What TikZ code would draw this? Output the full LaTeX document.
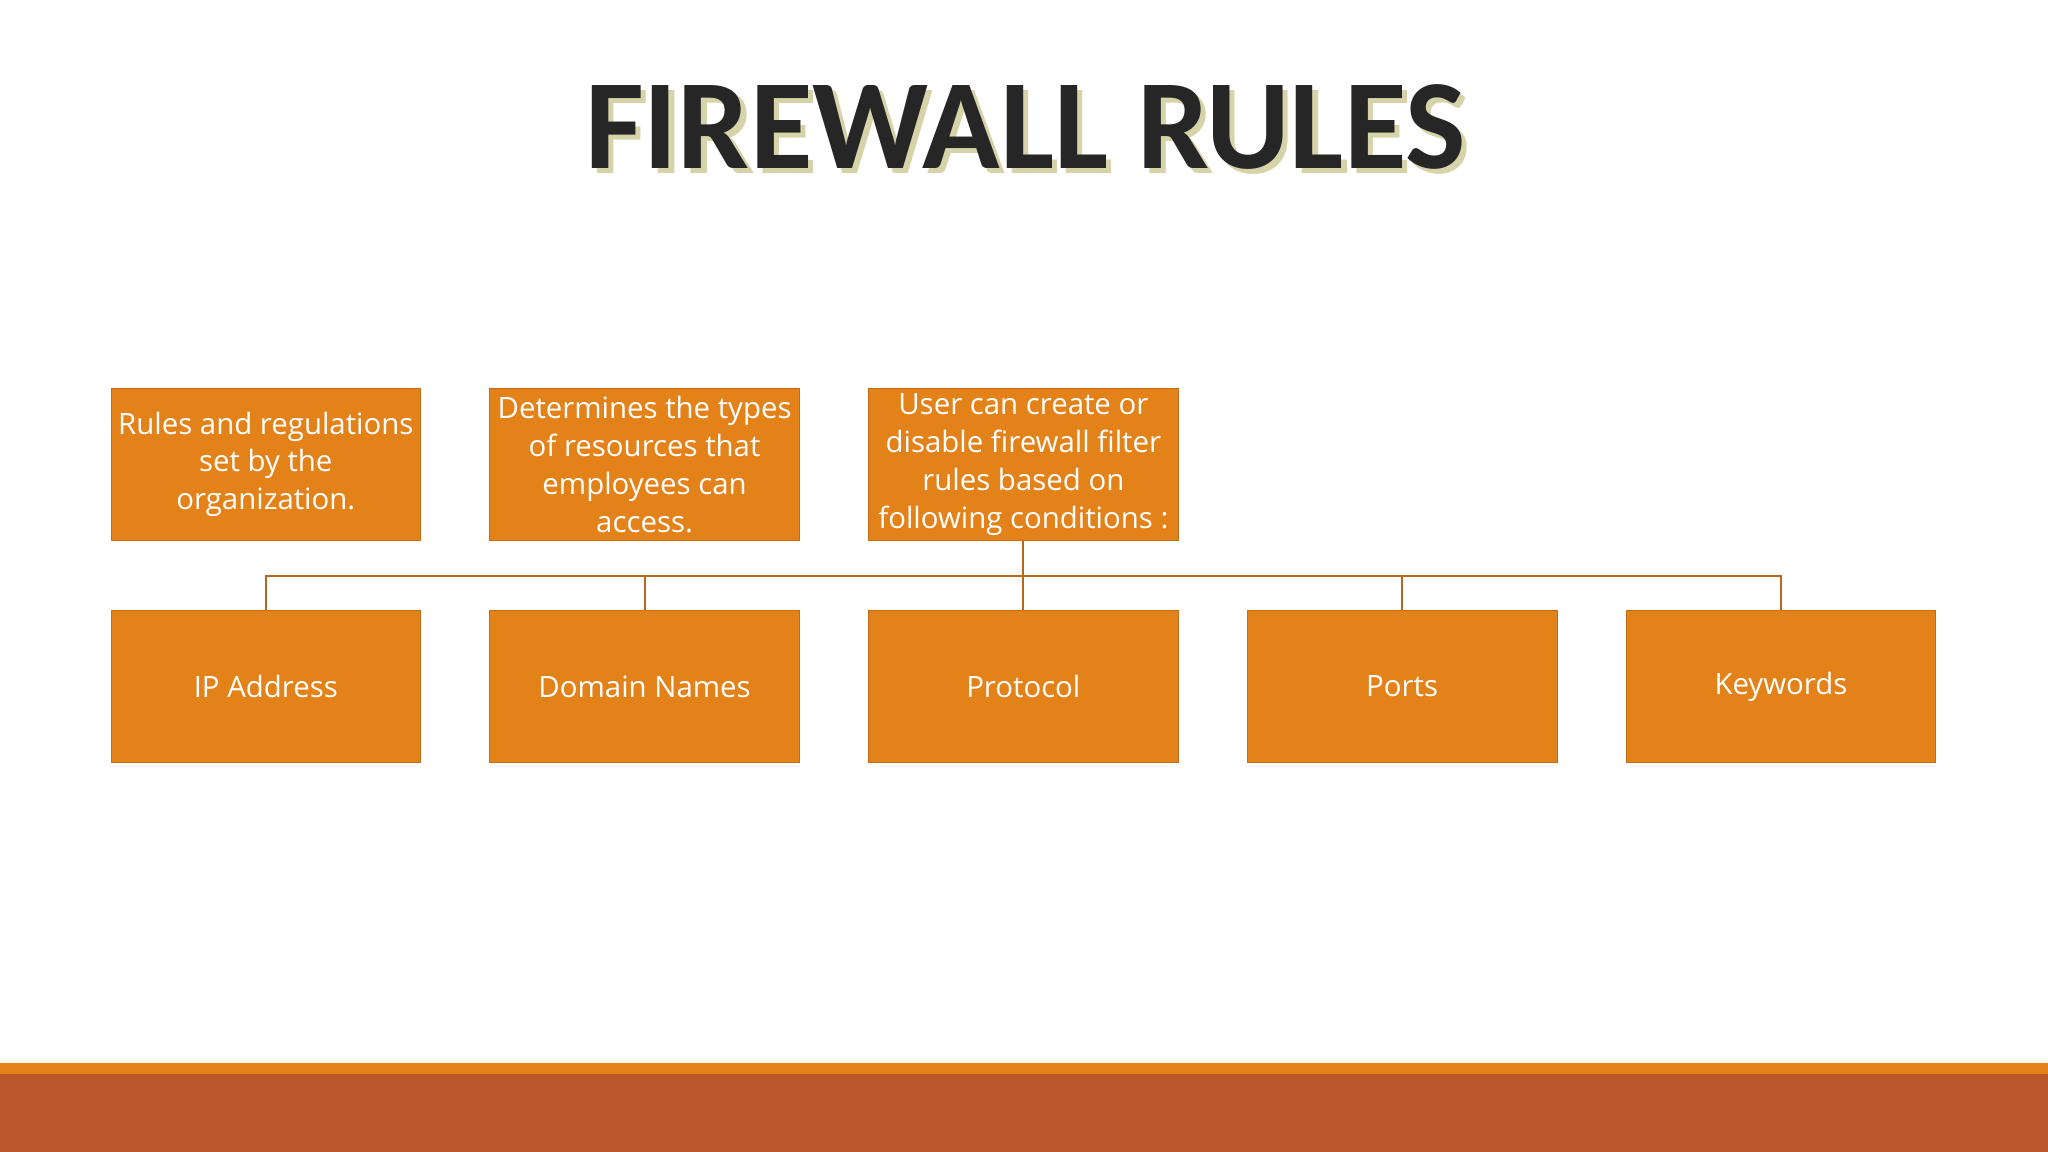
\documentclass[tikz,border=0pt]{standalone}
\usepackage{fontspec}
\setmainfont{Open Sans}
\newfontfamily\titlefont{Carlito}
\definecolor{boxc}{HTML}{E4821A}
\definecolor{linec}{HTML}{B8671C}
\definecolor{barc}{HTML}{BA5629}
\definecolor{shadc}{HTML}{D6D3A8}
\begin{document}
\begin{tikzpicture}[x=1pt,y=-1pt,
  bx/.style={fill=boxc,draw=boxc!85!black,line width=0.6pt,minimum width=237pt,minimum height=117pt,inner sep=2pt,text=white,font=\fontsize{22.5}{29}\selectfont,align=center},
  conn/.style={draw=linec,line width=1.6pt}]
\useasboundingbox (0,0) rectangle (1568,882);
\fill[white] (0,0) rectangle (1568,882);
\fill[boxc] (0,814) rectangle (1568,822);
\fill[barc] (0,822) rectangle (1568,882);
\node[text=shadc,font=\titlefont\fontsize{98}{98}\bfseries\selectfont] at (789,101) {FIREWALL RULES};
\node[text=black!85,font=\titlefont\fontsize{98}{98}\bfseries\selectfont] (title) at (785,97) {FIREWALL RULES};
\node[bx] (t1) at (203.5,355.5) {Rules and regulations\\set by the\\organization.};
\node[bx] (t2) at (493.5,355.5) {Determines the types\\of resources that\\employees can\\access.};
\node[bx] (t3) at (783.5,355.5) {User can create or\\disable firewall filter\\rules based on\\following conditions :};
\node[bx] (b1) at (203.5,525.5) {IP Address};
\node[bx] (b2) at (493.5,525.5) {Domain Names};
\node[bx] (b3) at (783.5,525.5) {Protocol};
\node[bx] (b4) at (1073.5,525.5) {Ports};
\node[bx] (b5) at (1363.5,525.5) {Keywords};
\coordinate (hub) at (783.5,441);
\draw[conn] (t3.south) -- (b3.north);
\foreach \n in {b1,b2,b4,b5} \draw[conn] (hub) -| (\n.north);
\end{tikzpicture}
\end{document}
